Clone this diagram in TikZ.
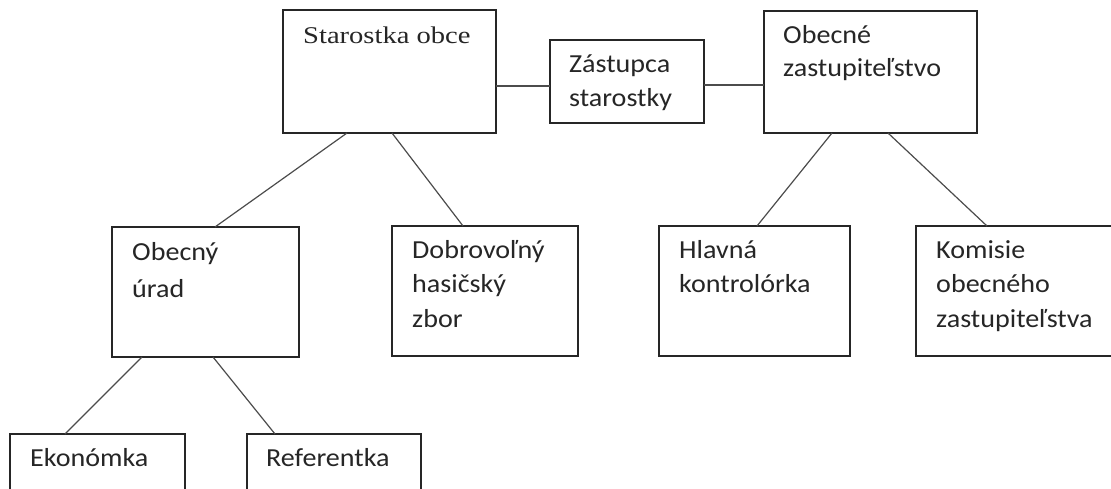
\documentclass[tikz,border=0pt]{standalone}
\usepackage{fontspec}
\newfontfamily\calfont[FakeStretch=1.08]{Carlito}
\newfontfamily\serfont[FakeStretch=1.19]{Liberation Serif}
\usetikzlibrary{calc}
\tikzset{
  box/.style={draw=black!85, line width=1.4pt, anchor=north west, inner sep=0pt, outer sep=0pt},
  lbl/.style={anchor=base west, align=left, inner sep=0pt, text=black!85, font=\calfont\fontsize{26}{34.5}\selectfont},
  link/.style={draw=black!70, line width=1.2pt}
}
\begin{document}
\begin{tikzpicture}[x=1pt,y=-1pt]
\useasboundingbox (0,0) rectangle (1111,488);
\clip (0,0) rectangle (1111,488);
\fill[white] (0,0) rectangle (1111,488);
% boxes
\node[box, minimum width=213pt, minimum height=123pt] (star) at (283,10) {};
\node[box, minimum width=154pt, minimum height=83pt] (zast) at (550,40) {};
\node[box, minimum width=213pt, minimum height=122pt] (obz) at (764,11) {};
\node[box, minimum width=187pt, minimum height=130pt] (urad) at (112,227) {};
\node[box, minimum width=186pt, minimum height=130pt] (hasic) at (392,226) {};
\node[box, minimum width=191pt, minimum height=130pt] (kontr) at (659,226) {};
\node[box, minimum width=210pt, minimum height=130pt] (komis) at (916,226) {};
\node[box, minimum width=175pt, minimum height=80pt] (ekon) at (10,434) {};
\node[box, minimum width=174pt, minimum height=80pt] (refer) at (247,434) {};
% labels (anchored at the baseline of the last line)
\node[lbl, font=\serfont\fontsize{24}{30}\selectfont] (tstar) at (303,43) {Starostka obce};
\node[lbl] (tzast) at (569,106.5) {Zástupca\\starostky};
\node[lbl, font=\calfont\fontsize{26}{33}\selectfont] (tobz) at (783,76) {Obecné\\zastupiteľstvo};
\node[lbl, font=\calfont\fontsize{26}{37}\selectfont] (turad) at (132,297) {Obecný\\úrad};
\node[lbl] (thasic) at (412,327) {Dobrovoľný\\hasičský\\zbor};
\node[lbl] (tkontr) at (679,292.5) {Hlavná\\kontrolórka};
\node[lbl] (tkomis) at (936,327) {Komisie\\obecného\\zastupiteľstva};
\node[lbl] (tekon) at (30,466) {Ekonómka};
\node[lbl] (trefer) at (266,466) {Referentka};
% connectors
\draw[link] ($(star.south east)+(0,-47)$) -- ($(zast.south west)+(0,-37)$);
\draw[link] ($(zast.south east)+(0,-38)$) -- ($(obz.south west)+(0,-48)$);
\draw[link] ($(star.south west)+(64,0)$) -- ($(urad.north west)+(103,0)$);
\draw[link] ($(star.south west)+(109,0)$) -- ($(hasic.north west)+(71,0)$);
\draw[link] ($(obz.south west)+(68,0)$) -- ($(kontr.north west)+(98,0)$);
\draw[link] ($(obz.south west)+(124,0)$) -- ($(komis.north west)+(71,0)$);
\draw[link] ($(urad.south west)+(30,0)$) -- ($(ekon.north west)+(55,0)$);
\draw[link] ($(urad.south west)+(101,0)$) -- ($(refer.north west)+(28,0)$);
\end{tikzpicture}
\end{document}
